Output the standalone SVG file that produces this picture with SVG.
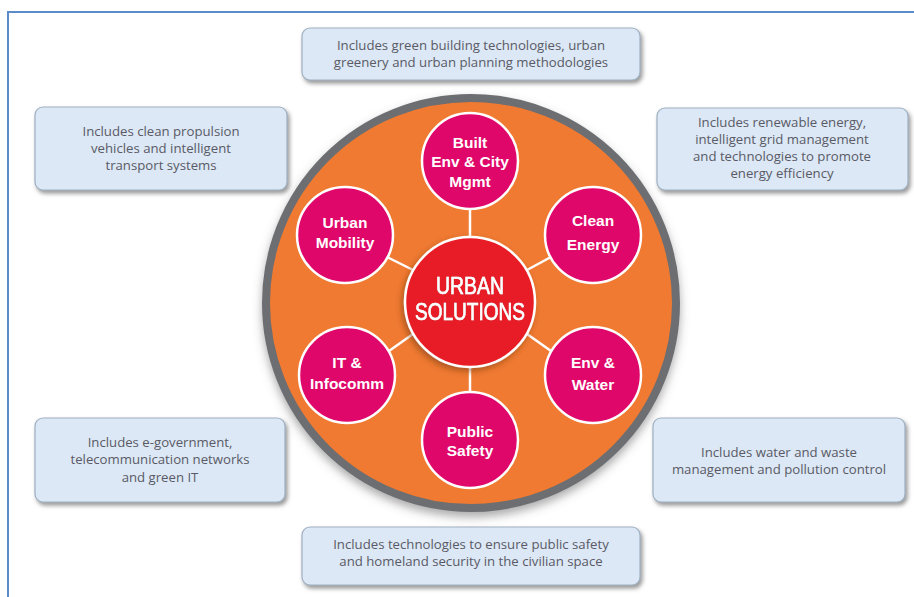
<svg xmlns="http://www.w3.org/2000/svg" width="914" height="597" viewBox="0 0 914 597">
<defs>
<filter id="boxsh" x="-10%" y="-20%" width="125%" height="150%">
<feDropShadow dx="2" dy="3" stdDeviation="2" flood-color="#6b6b6b" flood-opacity="0.7"/>
</filter>
<filter id="bigsh" x="-10%" y="-10%" width="120%" height="125%">
<feDropShadow dx="0" dy="5" stdDeviation="5" flood-color="#555" flood-opacity="0.5"/>
</filter>
<filter id="hubsh" x="-20%" y="-20%" width="140%" height="140%">
<feDropShadow dx="-2" dy="3" stdDeviation="3" flood-color="#7a3a10" flood-opacity="0.6"/>
</filter>
<filter id="glow" x="-10%" y="-30%" width="120%" height="160%">
<feDropShadow dx="0" dy="0" stdDeviation="0.6" flood-color="#8a0018" flood-opacity="0.8"/>
</filter>
</defs>
<style>
.box{fill:#dce8f5;stroke:#9fb0c2;stroke-width:1.2;filter:url(#boxsh)}
.desc{font-family:"Open Sans","Liberation Sans",sans-serif;font-size:13.2px;fill:#5a5a66;text-anchor:middle}
.sat{fill:#e0076a;stroke:#ffffff;stroke-width:2.5}
.lab{font-family:"Liberation Sans",Arial,sans-serif;font-weight:bold;font-size:15.5px;fill:#ffffff;text-anchor:middle}
.hub{font-family:"Liberation Sans",Arial,sans-serif;font-size:24px;fill:#ffffff;stroke:#ffffff;stroke-width:0.6;text-anchor:middle;filter:url(#glow)}
.con{stroke:#ffffff;stroke-width:2.5;fill:none}
</style>
<rect x="0" y="0" width="914" height="597" fill="#ffffff"/>
<rect x="8" y="12" width="920" height="600" fill="none" stroke="#5b8bc9" stroke-width="2"/>

<g id="ring">
<circle cx="471" cy="303" r="205" fill="#f07a32" stroke="#6d6e71" stroke-width="8" filter="url(#bigsh)"/>
</g>

<g id="connectors">
<line class="con" x1="470" y1="237" x2="470" y2="209"/>
<line class="con" x1="470" y1="367" x2="470" y2="392"/>
<line class="con" x1="527" y1="270" x2="551" y2="257"/>
<line class="con" x1="413" y1="270" x2="387" y2="257"/>
<line class="con" x1="527" y1="334" x2="551" y2="351"/>
<line class="con" x1="413" y1="334" x2="389" y2="351"/>
</g>

<g id="hub">
<circle cx="470" cy="302" r="65" fill="#e81e25" stroke="#ffffff" stroke-width="2.5" filter="url(#hubsh)"/>
<text class="hub" x="470" y="294" textLength="68" lengthAdjust="spacingAndGlyphs">URBAN</text>
<text class="hub" x="470" y="320" textLength="110" lengthAdjust="spacingAndGlyphs">SOLUTIONS</text>
</g>

<g id="built">
<circle class="sat" cx="470" cy="161" r="48"/>
<text class="lab" x="470" y="148">Built</text>
<text class="lab" x="470" y="167">Env &amp; City</text>
<text class="lab" x="470" y="187">Mgmt</text>
</g>
<g id="clean-energy">
<circle class="sat" cx="593" cy="235" r="48"/>
<text class="lab" x="593" y="226">Clean</text>
<text class="lab" x="593" y="250">Energy</text>
</g>
<g id="env-water">
<circle class="sat" cx="593" cy="375" r="48"/>
<text class="lab" x="593" y="368">Env &amp;</text>
<text class="lab" x="593" y="390">Water</text>
</g>
<g id="public-safety">
<circle class="sat" cx="470" cy="440" r="48"/>
<text class="lab" x="470" y="437">Public</text>
<text class="lab" x="470" y="456">Safety</text>
</g>
<g id="it-infocomm">
<circle class="sat" cx="347" cy="375" r="48"/>
<text class="lab" x="347" y="368">IT &amp;</text>
<text class="lab" x="347" y="389">Infocomm</text>
</g>
<g id="urban-mobility">
<circle class="sat" cx="345" cy="235" r="48"/>
<text class="lab" x="345" y="228">Urban</text>
<text class="lab" x="345" y="248">Mobility</text>
</g>

<g id="desc-top">
<rect class="box" x="302" y="28" width="338" height="52" rx="8"/>
<text class="desc" x="471" y="50">Includes green building technologies, urban</text>
<text class="desc" x="471" y="67">greenery and urban planning methodologies</text>
</g>
<g id="desc-mobility">
<rect class="box" x="35" y="107" width="252" height="83" rx="8"/>
<text class="desc" x="161" y="136">Includes clean propulsion</text>
<text class="desc" x="161" y="153">vehicles and intelligent</text>
<text class="desc" x="161" y="170">transport systems</text>
</g>
<g id="desc-energy">
<rect class="box" x="657" y="108" width="251" height="82" rx="8"/>
<text class="desc" x="782" y="127">Includes renewable energy,</text>
<text class="desc" x="782" y="144">intelligent grid management</text>
<text class="desc" x="782" y="161">and technologies to promote</text>
<text class="desc" x="782" y="178">energy efficiency</text>
</g>
<g id="desc-infocomm">
<rect class="box" x="35" y="418" width="250" height="84" rx="8"/>
<text class="desc" x="160" y="447">Includes e-government,</text>
<text class="desc" x="160" y="464">telecommunication networks</text>
<text class="desc" x="160" y="482">and green IT</text>
</g>
<g id="desc-water">
<rect class="box" x="653" y="418" width="252" height="84" rx="8"/>
<text class="desc" x="779" y="457">Includes water and waste</text>
<text class="desc" x="779" y="474">management and pollution control</text>
</g>
<g id="desc-safety">
<rect class="box" x="302" y="527" width="338" height="58" rx="8"/>
<text class="desc" x="471" y="549">Includes technologies to ensure public safety</text>
<text class="desc" x="471" y="566">and homeland security in the civilian space</text>
</g>
</svg>
